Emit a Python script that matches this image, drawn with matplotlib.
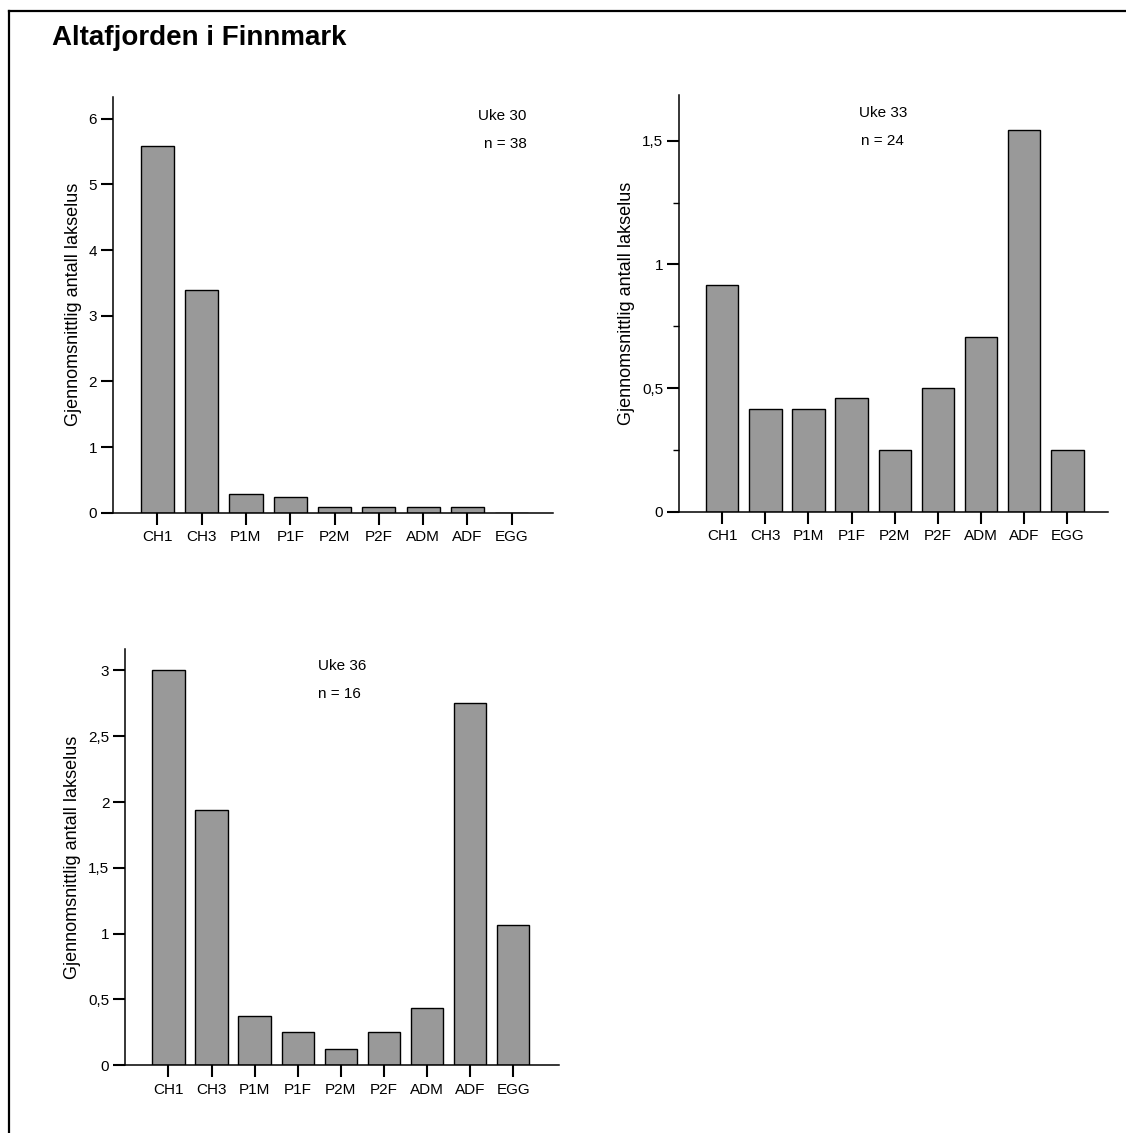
import matplotlib
matplotlib.use('Agg')
import matplotlib.pyplot as plt
from matplotlib.lines import Line2D
from matplotlib.ticker import FuncFormatter, MultipleLocator

plt.rcParams['font.family'] = ['Liberation Sans', 'DejaVu Sans']

stages = ['CH1', 'CH3', 'P1M', 'P1F', 'P2M', 'P2F', 'ADM', 'ADF', 'EGG']
uke30 = [5.58, 3.39, 0.29, 0.24, 0.08, 0.08, 0.08, 0.08, 0.0]
uke33 = [0.917, 0.417, 0.417, 0.458, 0.25, 0.5, 0.708, 1.542, 0.25]
uke36 = [3.0, 1.9375, 0.375, 0.25, 0.125, 0.25, 0.4375, 2.75, 1.0625]
title = 'Altafjorden i Finnmark'
ylabel = 'Gjennomsnittlig antall lakselus'

W, H = 1126, 1133
fig = plt.figure(figsize=(W / 100, H / 100), dpi=100)

def comma(v, pos):
    return ('%g' % v).replace('.', ',')

def panel(rect, values, ymax, xmax, major, minor, week, n, tx, ty, ha):
    ax = fig.add_axes(rect)
    x = range(len(stages))
    ax.bar(x, values, width=0.75, color='#999999', edgecolor='black', linewidth=1.0)
    ax.set_xlim(-1.0, xmax)
    ax.set_ylim(0, ymax)
    ax.set_xticks(list(x))
    ax.set_xticklabels(stages, fontsize=11)
    ax.yaxis.set_major_locator(MultipleLocator(major))
    if minor:
        ax.yaxis.set_minor_locator(MultipleLocator(minor))
    ax.yaxis.set_major_formatter(FuncFormatter(comma))
    ax.tick_params(axis='both', which='major', direction='out', length=8.5, width=1.5, labelsize=11)
    ax.tick_params(axis='x', pad=4)
    ax.tick_params(axis='y', pad=3)
    ax.tick_params(axis='y', which='minor', direction='out', length=4.5, width=1.0)
    for s in ['top', 'right']:
        ax.spines[s].set_visible(False)
    for s in ['left', 'bottom']:
        ax.spines[s].set_linewidth(1.1)
    ax.set_ylabel(ylabel, fontsize=13, labelpad=5)
    ax.text(tx, ty, week, transform=ax.transAxes, ha=ha, va='center', fontsize=11)
    ax.text(tx, ty - 0.067, n, transform=ax.transAxes, ha=ha, va='center', fontsize=11)
    return ax

panel([113 / W, 1 - 512.7 / H, 440 / W, 415.7 / H], uke30, 6.33, 8.93, 1, None,
      'Uke 30', 'n = 38', 0.94, 0.954, 'right')
panel([679 / W, 1 - 511.7 / H, 429 / W, 416.7 / H], uke33, 1.685, 8.94, 0.5, 0.25,
      'Uke 33', 'n = 24', 0.475, 0.957, 'center')
panel([125.3 / W, 1 - 1065.3 / H, 433.7 / W, 416 / H], uke36, 3.16, 9.06, 0.5, None,
      'Uke 36', 'n = 16', 0.444, 0.96, 'left')

fig.text(51.7 / W, 1 - 45 / H, title, fontsize=20, fontweight='bold', va='baseline')

# frame round the page, only top and left show
fig.add_artist(Line2D([8.5 / W, 1], [1 - 10.8 / H, 1 - 10.8 / H], color='black', linewidth=1.6))
fig.add_artist(Line2D([8.5 / W, 8.5 / W], [0, 1 - 10.8 / H], color='black', linewidth=1.6))

fig.savefig('out.png', dpi=100)
